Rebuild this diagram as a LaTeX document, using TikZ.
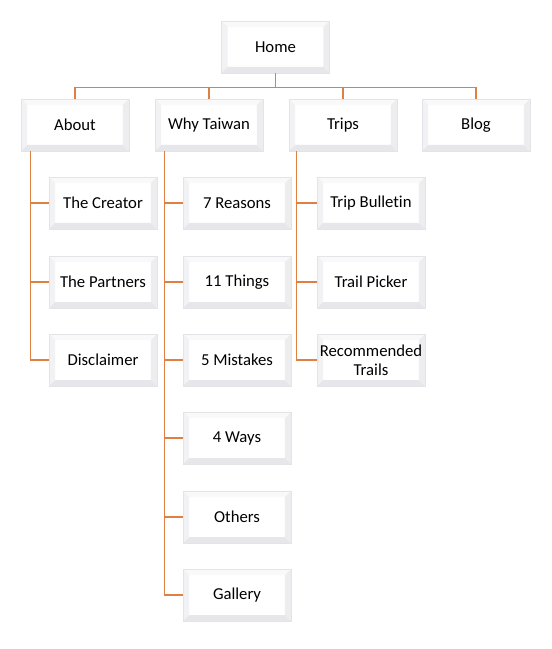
\documentclass[tikz,border=0pt]{standalone}
\usepackage{fontspec}
\setmainfont{Carlito}[Ligatures=NoCommon]
\usepackage{tikz}
\usetikzlibrary{positioning}
\usetikzlibrary{calc}

\definecolor{linkorange}{RGB}{222,128,66}
\definecolor{bevelgray}{RGB}{196,196,204}

\tikzset{
	page/.style={
		minimum width=2.16cm, minimum height=1.04cm, inner sep=0pt,
		align=center, font=\fontsize{9.5}{11}\selectfont,
		draw=bevelgray!45, line width=0.4pt, fill=white,
		path picture={
			% bevel edges of the button
			\coordinate (BL) at (path picture bounding box.south west);
			\coordinate (TR) at (path picture bounding box.north east);
			\coordinate (TL) at (BL |- TR);
			\coordinate (BR) at (BL -| TR);
			\fill[bevelgray!10] (TL) -- (TR) -- ++(-0.12cm,-0.12cm) -- ($(TL)+(0.12cm,-0.12cm)$) -- cycle;
			\fill[bevelgray!22] (TL) -- (BL) -- ++(0.12cm,0.12cm) -- ($(TL)+(0.12cm,-0.12cm)$) -- cycle;
			\fill[bevelgray!30] (TR) -- (BR) -- ++(-0.12cm,0.12cm) -- ($(TR)+(-0.12cm,-0.12cm)$) -- cycle;
			\fill[bevelgray!40] (BL) -- (BR) -- ++(-0.12cm,0.12cm) -- ($(BL)+(0.12cm,0.12cm)$) -- cycle;
		}
	},
	link/.style={draw=linkorange, line width=0.7pt}
}

\begin{document}
\begin{tikzpicture}[x=0.02cm, y=-0.02cm]

	% ------------------------------------------------
	% Keep the page the size of the sitemap
	\useasboundingbox (0,0) rectangle (551,649);

	% ------------------------------------------------
	% Top level
	\node[page] (Home) at (275.5,47) {Home};

	\node[page] (About)  at (75,125)  {About};
	\node[page] (Why)    at (209,125) {Why Taiwan};
	\node[page] (Trips)  at (343,125) {Trips};
	\node[page] (Blog)   at (476,125) {Blog};

	% ------------------------------------------------
	% Second level
	\node[page] (Creator)    at (103,203) {The Creator};
	\node[page] (Partners)   at (103,282) {The Partners};
	\node[page] (Disclaimer) at (103,360) {Disclaimer};

	\node[page] (Reasons)  at (237,203) {7 Reasons};
	\node[page] (Things)   at (237,282) {11 Things};
	\node[page] (Mistakes) at (237,360) {5 Mistakes};
	\node[page] (Ways)     at (237,438) {4 Ways};
	\node[page] (Others)   at (237,517) {Others};
	\node[page] (Gallery)  at (237,595) {Gallery};

	\node[page] (Bulletin)    at (371,203) {Trip Bulletin};
	\node[page] (Picker)      at (371,282) {Trail Picker};
	\node[page] (Recommended) at (371,360) {Recommended\\Trails};

	%%%%%%%%%%%%%%%%%%%%%%%%%%%%%%%%%%%%%%%%%
	% Links from Home
	\path (Home.south) +(0,14) coordinate (Bus);
	\foreach \sec in {About,Why,Trips,Blog}
		\draw[link] (Home.south) -- (Bus) -| (\sec.north);

	% Spines for the sections
	\path (About.south west) +(10,0) coordinate (AboutSpine);
	\path (Why.south west)   +(10,0) coordinate (WhySpine);
	\path (Trips.south west) +(8,0)  coordinate (TripsSpine);

	\draw[link] (AboutSpine) -- (AboutSpine |- Disclaimer.west) -- (Disclaimer.west);
	\foreach \sub in {Creator,Partners}
		\draw[link] (AboutSpine |- \sub.west) -- (\sub.west);

	\draw[link] (WhySpine) -- (WhySpine |- Gallery.west) -- (Gallery.west);
	\foreach \sub in {Reasons,Things,Mistakes,Ways,Others}
		\draw[link] (WhySpine |- \sub.west) -- (\sub.west);

	\draw[link] (TripsSpine) -- (TripsSpine |- Recommended.west) -- (Recommended.west);
	\foreach \sub in {Bulletin,Picker}
		\draw[link] (TripsSpine |- \sub.west) -- (\sub.west);

\end{tikzpicture}
\end{document}
